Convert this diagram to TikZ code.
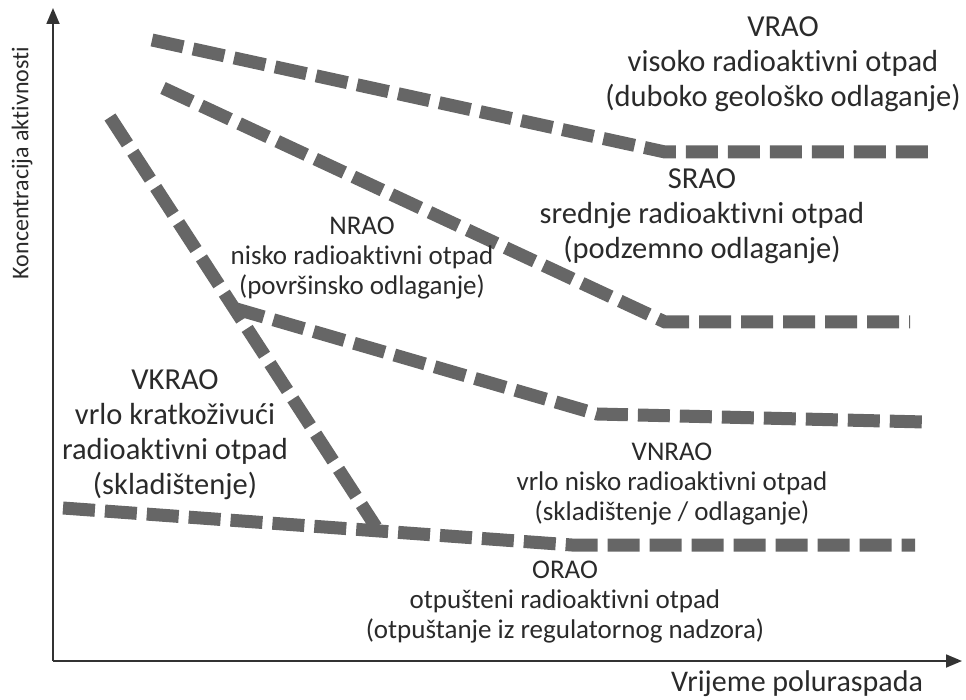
\documentclass[tikz,border=0pt]{standalone}
\usepackage{fontspec}
\setmainfont{Carlito}[Ligatures={NoCommon}]
\usepackage{tikz}
\usetikzlibrary{arrows.meta}

\definecolor{bandgray}{HTML}{666666}
\definecolor{txtgray}{HTML}{2A2A2A}

\begin{document}
\begin{tikzpicture}[x=1pt,y=-1pt,
  band/.style={line width=13pt, draw=bandgray, dash pattern=on 32pt off 10pt},
  biglab/.style={align=center, text=txtgray, font=\fontsize{30.5}{35}\selectfont},
  smalllab/.style={align=center, text=txtgray, font=\fontsize{27}{30}\selectfont},
  axis/.style={line width=1.8pt, draw=black!80, -{Triangle[length=16pt,width=13pt]}}]

\useasboundingbox (0,0) rectangle (966,700);

% Axes
\coordinate (o) at (53,661);
\coordinate (ytop) at (53,8);
\coordinate (xend) at (962,661);
\draw[axis] (o) -- (ytop);
\draw[axis] (o) -- (xend);
\node[rotate=90, text=txtgray, font=\fontsize{24}{28}\selectfont] (ylab) at (22,163) {Koncentracija aktivnosti};
\node[anchor=base, text=txtgray, font=\fontsize{30}{36}\selectfont] (xlab) at (797,691) {Vrijeme poluraspada};

% Waste classes
\draw[band] (152,40) -- (665,152) -- (928,152);
\draw[band] (163,88) -- (665,322) -- (910,322);
\draw[band] (233,308) -- (597,414) -- (925,422);
\draw[band] (110,117) -- (376,527);
\draw[band] (63,508) -- (572,545) -- (915,545);

% Labels
\node[biglab]   (vrao)  at (783,64)  {VRAO\\visoko radioaktivni otpad\\(duboko geološko odlaganje)};
\node[biglab]   (srao)  at (702,216) {SRAO\\srednje radioaktivni otpad\\(podzemno odlaganje)};
\node[smalllab] (nrao)  at (362,258) {NRAO\\nisko radioaktivni otpad\\(površinsko odlaganje)};
\node[biglab]   (vkrao) at (175,435) {VKRAO\\vrlo kratkoživući\\radioaktivni otpad\\(skladištenje)};
\node[smalllab] (vnrao) at (672,484) {VNRAO\\vrlo nisko radioaktivni otpad\\(skladištenje / odlaganje)};
\node[smalllab] (orao)  at (565,602) {ORAO\\otpušteni radioaktivni otpad\\(otpuštanje iz regulatornog nadzora)};

\end{tikzpicture}
\end{document}
